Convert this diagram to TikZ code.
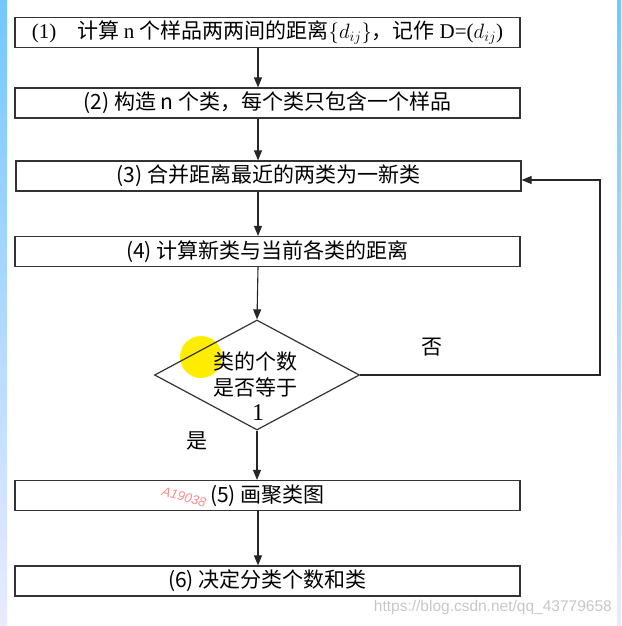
\documentclass[tikz,border=0pt]{standalone}
\usepackage{fontspec}
\setmainfont{Liberation Serif}
\setsansfont{Liberation Sans}
\newfontfamily\cjk{Noto Sans CJK SC}
\usetikzlibrary{arrows.meta,shapes.geometric,positioning}

\begin{document}
\begin{tikzpicture}[x=1pt,y=-1pt]
\tikzstyle{every node}+=[inner sep=0pt]
\tikzstyle{stepbox}=[draw=black!80, line width=1.2pt, minimum width=505pt, minimum height=30pt, font=\fontsize{21}{24}\selectfont\cjk]
\tikzstyle{decision}=[draw=black!80, line width=1.2pt, shape=diamond, minimum width=205pt, minimum height=110pt]
\tikzstyle{flow}=[draw=black!85, line width=1.1pt, -{Triangle[length=10pt,width=8pt]}]
\tikzstyle{plain}=[font=\fontsize{21}{26}\selectfont\cjk]
\useasboundingbox (0,0) rectangle (621,626);
% screen edges
\shade [top color=blue!40!cyan!55, bottom color=blue!8] (0,0) rectangle (7,626);
\shade [top color=blue!40!cyan!55, bottom color=blue!8] (617,0) rectangle (621,626);
% cursor highlight
\fill [yellow!95!orange] (201,357) circle (21);
% steps
\node [stepbox] (s1) at (267.5,32.5) {\rmfamily(1)\quad \cjk 计算 \rmfamily n \cjk 个样品两两间的距离$\{d_{ij}\}$，记作 \rmfamily D=($d_{ij}$)};
\node [stepbox] (s2) at (267.5,103) {(2) 构造 n 个类，每个类只包含一个样品};
\node [stepbox] (s3) at (268.5,176) {(3) 合并距离最近的两类为一新类};
\node [stepbox] (s4) at (267.5,251.5) {(4) 计算新类与当前各类的距离};
\node [decision] (q) at (257,375) {};
\node [plain, align=center] (qt) at (255,374) {类的个数\\是否等于};
\node [font=\fontsize{24}{24}\selectfont\rmfamily] (one) at (258,413) {1};
\node [stepbox] (s5) at (267.5,495.5) {(5) 画聚类图};
\node [stepbox] (s6) at (267.5,581) {(6) 决定分类个数和类};
\node [plain] (no) at (432,347) {否};
\node [plain] (yes) at (197,441) {是};
% connectors
\coordinate (axis) at (258,0);
\coordinate (turn) at (600,180);
\draw [flow] (s1.south -| axis) -- (s2.north -| axis);
\draw [flow] (s2.south -| axis) -- (s3.north -| axis);
\draw [flow] (s3.south -| axis) -- (s4.north -| axis);
\draw [flow] (s4.south -| axis) -- (q.north);
\draw [flow] (q.south) -- (s5.north -| q.south);
\draw [flow] (s5.south -| axis) -- (s6.north -| axis);
\draw [flow] (q.east) -| (turn) -- (turn -| s3.east);
% marks on the capture
\node [rotate=-15, text=red!45, font=\sffamily\itshape\fontsize{13}{13}\selectfont] (tag) at (184,497) {A19038};
\node [anchor=east, text=black!22, font=\sffamily\fontsize{15.5}{15.5}\selectfont] (url) at (612,607) {https://blog.csdn.net/qq\_43779658};
\end{tikzpicture}
\end{document}
